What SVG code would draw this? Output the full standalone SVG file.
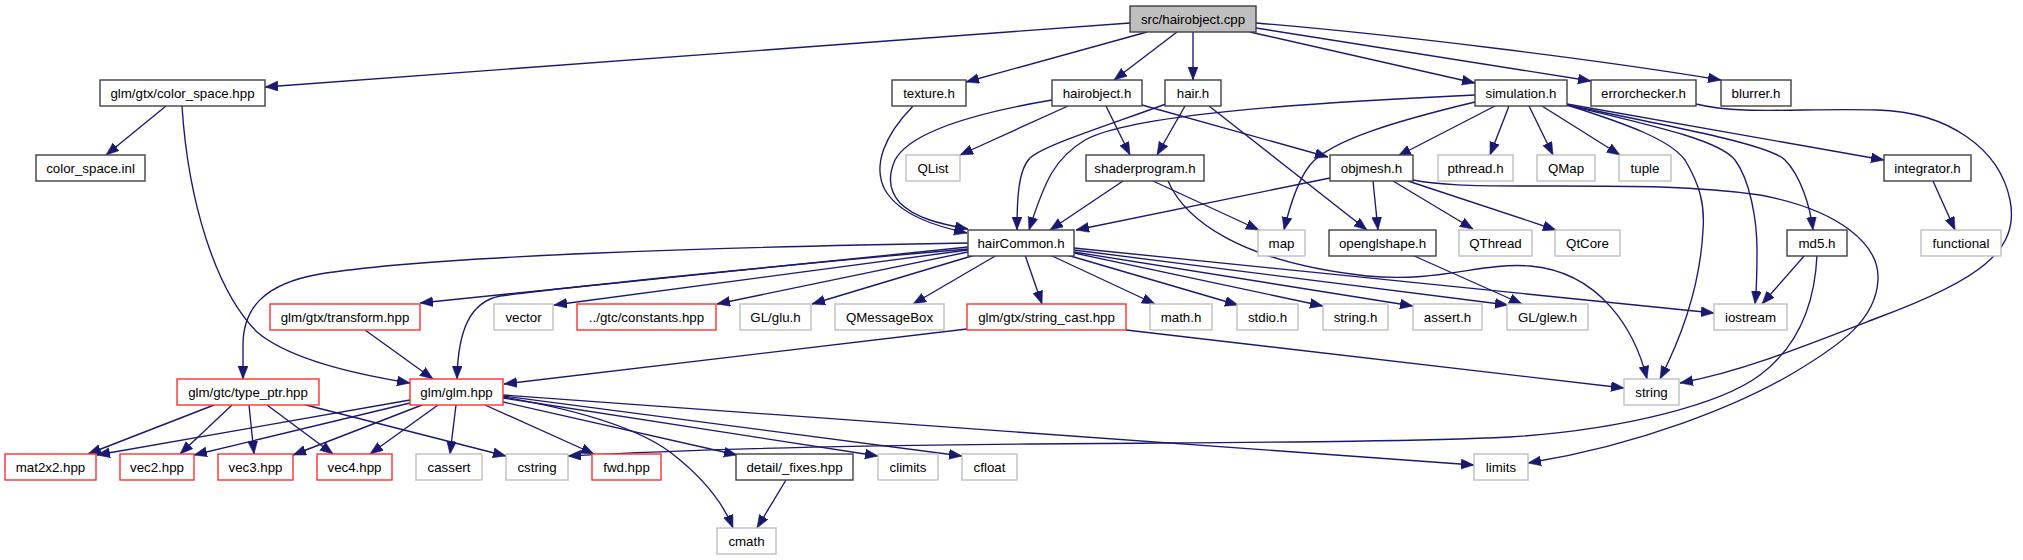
<svg xmlns="http://www.w3.org/2000/svg" width="2023" height="560" viewBox="0 0 2023 560">
<style>
rect{stroke-width:1.4}
.doc rect{fill:#fff;stroke:#404040}
.root rect{fill:#bfbfbf;stroke:#404040}
.ext rect{fill:#fff;stroke:#bfbfbf}
.tr rect{fill:#fff;stroke:#ff3030}
text{font-family:"Liberation Sans",Arial,sans-serif;font-size:13.3px;text-anchor:middle;fill:#000}
#edges path{fill:none;stroke:#191970;stroke-width:1.35;marker-end:url(#ah)}
</style>
<defs>
<marker id="ah" markerUnits="userSpaceOnUse" markerWidth="14" markerHeight="11" refX="13" refY="5" orient="auto">
<path d="M0,0 L13,5 L0,10 Z" fill="#191970" stroke="#191970" stroke-width="0.5"/>
</marker>
</defs>
<rect width="2023" height="560" fill="#fff"/>
<g id="edges">
<path d="M1130,23 L265,87"/>
<path d="M1147,32 L966,82"/>
<path d="M1177,32 L1114,80"/>
<path d="M1193,32 L1193,80"/>
<path d="M1250,32 L1475,83"/>
<path d="M1256,28 L1591,81"/>
<path d="M1256,23 C1400,35 1600,60 1721,80"/>
<path d="M166,106 L106,155"/>
<path d="M182,106 C188,200 215,290 257,332 C290,360 360,375 410,383"/>
<path d="M913,106 C885,135 872,165 885,190 C900,215 935,226 967,233"/>
<path d="M1052,100 C975,113 910,132 895,160 C887,178 890,192 900,203 C915,218 940,224 968,229"/>
<path d="M1068,106 L960,155"/>
<path d="M1106,106 L1130,155"/>
<path d="M1142,105 L1328,157"/>
<path d="M1166,104 C1100,128 1045,145 1030,158 C1018,170 1017,200 1017,230"/>
<path d="M1475,95 C1300,103 1130,115 1085,140 C1055,158 1045,180 1029,230"/>
<path d="M1123,181 L1050,230"/>
<path d="M1153,181 L1259,230"/>
<path d="M1168,181 C1185,220 1240,262 1367,276 C1440,283 1480,262 1530,266 C1600,272 1635,330 1647,379"/>
<path d="M1185,106 L1157,155"/>
<path d="M1209,106 L1367,230"/>
<path d="M1475,102 C1400,120 1330,140 1310,165 C1298,180 1290,205 1284,230"/>
<path d="M1495,106 L1398,156"/>
<path d="M1509,106 L1490,155"/>
<path d="M1529,106 L1553,155"/>
<path d="M1542,106 L1620,155"/>
<path d="M1567,105 C1630,125 1670,140 1685,160 C1700,185 1705,205 1703,230 C1700,290 1680,340 1660,379"/>
<path d="M1567,105 C1650,125 1720,140 1735,160 C1750,180 1757,220 1757,250 C1757,280 1756,295 1755,304"/>
<path d="M1567,105 C1680,128 1770,145 1785,160 C1800,175 1810,205 1813,230"/>
<path d="M1567,104 L1884,160"/>
<path d="M1696,104 C1740,115 1800,108 1877,110 C1950,112 2000,150 2010,200 C2020,250 1980,280 1877,318 C1800,348 1740,372 1680,383"/>
<path d="M1330,178 L1076,230"/>
<path d="M1373,181 L1378,230"/>
<path d="M1393,181 L1473,229"/>
<path d="M1408,181 L1556,230"/>
<path d="M1413,180 C1440,185 1470,186 1520,186 C1620,186 1690,185 1760,195 C1840,210 1880,245 1878,280 C1876,320 1840,345 1795,372 C1740,405 1640,445 1528,463"/>
<path d="M1412,255 L1522,304"/>
<path d="M968,243 C720,247 430,256 320,274 C262,284 243,310 243,345 L243,379"/>
<path d="M968,247 L420,303"/>
<path d="M968,249 C780,265 560,288 500,296 C470,302 458,330 457,379"/>
<path d="M968,250 L554,305"/>
<path d="M968,252 L717,304"/>
<path d="M975,255 L812,304"/>
<path d="M997,255 L913,304"/>
<path d="M1025,255 L1042,304"/>
<path d="M1050,255 L1155,304"/>
<path d="M1067,255 L1238,305"/>
<path d="M1074,253 L1323,306"/>
<path d="M1074,252 L1413,306"/>
<path d="M1074,250 L1508,305"/>
<path d="M1074,248 L1714,313"/>
<path d="M967,329 L504,384"/>
<path d="M1126,330 L1624,388"/>
<path d="M365,330 L433,379"/>
<path d="M214,405 L88,454"/>
<path d="M232,405 L180,454"/>
<path d="M249,405 L254,454"/>
<path d="M267,405 L333,454"/>
<path d="M302,404 L506,456"/>
<path d="M410,400 L97,455"/>
<path d="M410,403 L194,455"/>
<path d="M422,405 L293,455"/>
<path d="M438,405 L370,454"/>
<path d="M456,405 L450,454"/>
<path d="M485,405 L594,454"/>
<path d="M503,402 L737,455"/>
<path d="M503,397 C590,412 640,430 670,452 C700,475 722,500 733,528"/>
<path d="M503,398 L878,456"/>
<path d="M503,396 L962,456"/>
<path d="M503,395 L1474,465"/>
<path d="M786,480 L757,528"/>
<path d="M1805,255 L1762,304"/>
<path d="M1817,255 C1815,300 1800,345 1760,375 C1720,405 1620,430 1510,437 C1300,447 900,438 568,456"/>
<path d="M1933,181 L1955,230"/>
</g>
<g id="n_root" class="root"><rect x="1130" y="6" width="126" height="26"/><text x="1193" y="23.5">src/hairobject.cpp</text></g>
<g id="n_colorspace" class="doc"><rect x="100" y="80" width="165" height="26"/><text x="182.5" y="97.5">glm/gtx/color_space.hpp</text></g>
<g id="n_texture" class="doc"><rect x="892" y="80" width="74" height="26"/><text x="929" y="97.5">texture.h</text></g>
<g id="n_hairobject" class="doc"><rect x="1052" y="80" width="90" height="26"/><text x="1097" y="97.5">hairobject.h</text></g>
<g id="n_hair" class="doc"><rect x="1165" y="80" width="56" height="26"/><text x="1193" y="97.5">hair.h</text></g>
<g id="n_simulation" class="doc"><rect x="1475" y="80" width="92" height="26"/><text x="1521" y="97.5">simulation.h</text></g>
<g id="n_errorchecker" class="doc"><rect x="1591" y="80" width="105" height="26"/><text x="1643.5" y="97.5">errorchecker.h</text></g>
<g id="n_blurrer" class="doc"><rect x="1721" y="80" width="70" height="26"/><text x="1756" y="97.5">blurrer.h</text></g>
<g id="n_colorspaceinl" class="doc"><rect x="36" y="155" width="109" height="26"/><text x="90.5" y="172.5">color_space.inl</text></g>
<g id="n_qlist" class="ext"><rect x="906" y="155" width="54" height="26"/><text x="933" y="172.5">QList</text></g>
<g id="n_shaderprogram" class="doc"><rect x="1086" y="155" width="118" height="26"/><text x="1145" y="172.5">shaderprogram.h</text></g>
<g id="n_objmesh" class="doc"><rect x="1330" y="155" width="83" height="26"/><text x="1371.5" y="172.5">objmesh.h</text></g>
<g id="n_pthread" class="ext"><rect x="1438" y="155" width="75" height="26"/><text x="1475.5" y="172.5">pthread.h</text></g>
<g id="n_qmap" class="ext"><rect x="1537" y="155" width="58" height="26"/><text x="1566" y="172.5">QMap</text></g>
<g id="n_tuple" class="ext"><rect x="1619" y="155" width="52" height="26"/><text x="1645" y="172.5">tuple</text></g>
<g id="n_integrator" class="doc"><rect x="1884" y="155" width="87" height="26"/><text x="1927.5" y="172.5">integrator.h</text></g>
<g id="n_haircommon" class="doc"><rect x="968" y="230" width="106" height="26"/><text x="1021" y="247.5">hairCommon.h</text></g>
<g id="n_map" class="ext"><rect x="1258" y="230" width="47" height="26"/><text x="1281.5" y="247.5">map</text></g>
<g id="n_openglshape" class="doc"><rect x="1329" y="230" width="107" height="26"/><text x="1382.5" y="247.5">openglshape.h</text></g>
<g id="n_qthread" class="ext"><rect x="1459" y="230" width="73" height="26"/><text x="1495.5" y="247.5">QThread</text></g>
<g id="n_qtcore" class="ext"><rect x="1555" y="230" width="65" height="26"/><text x="1587.5" y="247.5">QtCore</text></g>
<g id="n_md5" class="doc"><rect x="1787" y="230" width="60" height="26"/><text x="1817" y="247.5">md5.h</text></g>
<g id="n_functional" class="ext"><rect x="1921" y="230" width="80" height="26"/><text x="1961" y="247.5">functional</text></g>
<g id="n_transform" class="tr"><rect x="270" y="304" width="150" height="26"/><text x="345" y="321.5">glm/gtx/transform.hpp</text></g>
<g id="n_vector" class="ext"><rect x="494" y="304" width="59" height="26"/><text x="523.5" y="321.5">vector</text></g>
<g id="n_constants" class="tr"><rect x="577" y="304" width="139" height="26"/><text x="646.5" y="321.5">../gtc/constants.hpp</text></g>
<g id="n_glu" class="ext"><rect x="740" y="304" width="71" height="26"/><text x="775.5" y="321.5">GL/glu.h</text></g>
<g id="n_qmessagebox" class="ext"><rect x="835" y="304" width="109" height="26"/><text x="889.5" y="321.5">QMessageBox</text></g>
<g id="n_stringcast" class="tr"><rect x="967" y="304" width="159" height="26"/><text x="1046.5" y="321.5">glm/gtx/string_cast.hpp</text></g>
<g id="n_math" class="ext"><rect x="1150" y="304" width="62" height="26"/><text x="1181" y="321.5">math.h</text></g>
<g id="n_stdio" class="ext"><rect x="1237" y="304" width="61" height="26"/><text x="1267.5" y="321.5">stdio.h</text></g>
<g id="n_stringh" class="ext"><rect x="1323" y="304" width="65" height="26"/><text x="1355.5" y="321.5">string.h</text></g>
<g id="n_assert" class="ext"><rect x="1413" y="304" width="69" height="26"/><text x="1447.5" y="321.5">assert.h</text></g>
<g id="n_glew" class="ext"><rect x="1507" y="304" width="81" height="26"/><text x="1547.5" y="321.5">GL/glew.h</text></g>
<g id="n_iostream" class="ext"><rect x="1714" y="304" width="73" height="26"/><text x="1750.5" y="321.5">iostream</text></g>
<g id="n_typeptr" class="tr"><rect x="177" y="379" width="142" height="26"/><text x="248" y="396.5">glm/gtc/type_ptr.hpp</text></g>
<g id="n_glm" class="tr"><rect x="410" y="379" width="93" height="26"/><text x="456.5" y="396.5">glm/glm.hpp</text></g>
<g id="n_string" class="ext"><rect x="1624" y="379" width="55" height="26"/><text x="1651.5" y="396.5">string</text></g>
<g id="n_mat2x2" class="tr"><rect x="5" y="454" width="91" height="26"/><text x="50.5" y="471.5">mat2x2.hpp</text></g>
<g id="n_vec2" class="tr"><rect x="120" y="454" width="74" height="26"/><text x="157" y="471.5">vec2.hpp</text></g>
<g id="n_vec3" class="tr"><rect x="218" y="454" width="75" height="26"/><text x="255.5" y="471.5">vec3.hpp</text></g>
<g id="n_vec4" class="tr"><rect x="317" y="454" width="75" height="26"/><text x="354.5" y="471.5">vec4.hpp</text></g>
<g id="n_cassert" class="ext"><rect x="416" y="454" width="66" height="26"/><text x="449" y="471.5">cassert</text></g>
<g id="n_cstring" class="ext"><rect x="506" y="454" width="62" height="26"/><text x="537" y="471.5">cstring</text></g>
<g id="n_fwd" class="tr"><rect x="592" y="454" width="69" height="26"/><text x="626.5" y="471.5">fwd.hpp</text></g>
<g id="n_fixes" class="doc"><rect x="736" y="454" width="117" height="26"/><text x="794.5" y="471.5">detail/_fixes.hpp</text></g>
<g id="n_climits" class="ext"><rect x="878" y="454" width="60" height="26"/><text x="908" y="471.5">climits</text></g>
<g id="n_cfloat" class="ext"><rect x="962" y="454" width="55" height="26"/><text x="989.5" y="471.5">cfloat</text></g>
<g id="n_limits" class="ext"><rect x="1474" y="454" width="54" height="26"/><text x="1501" y="471.5">limits</text></g>
<g id="n_cmath" class="ext"><rect x="717" y="528" width="59" height="26"/><text x="746.5" y="545.5">cmath</text></g>
</svg>
